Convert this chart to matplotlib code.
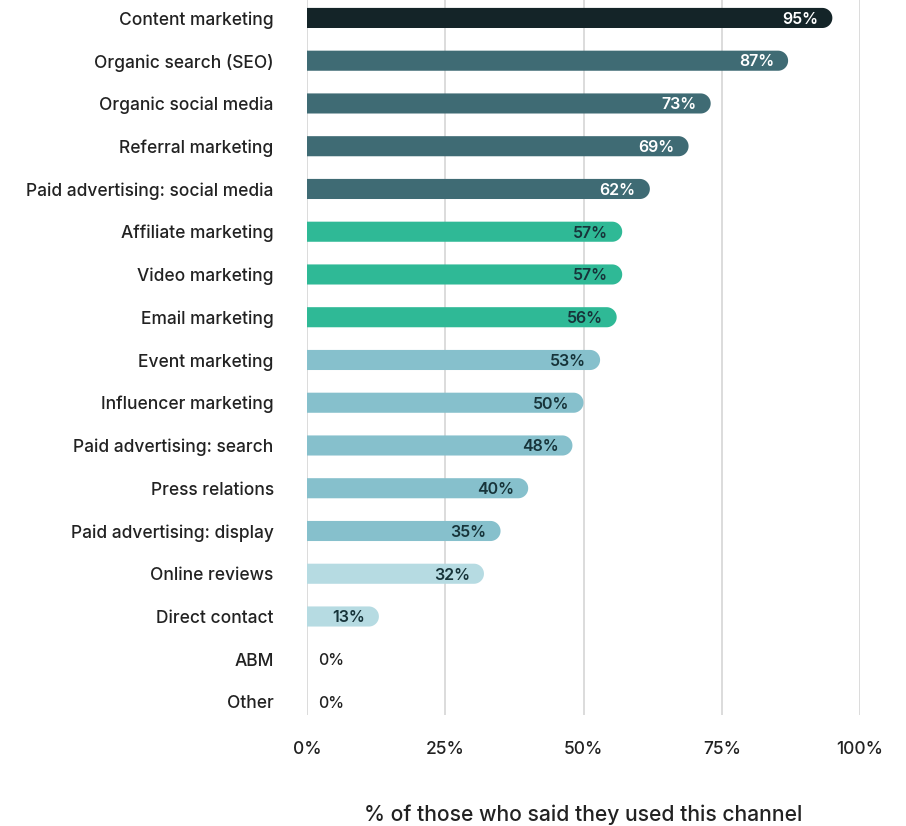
import matplotlib
matplotlib.use("Agg")
import numpy as np
import matplotlib.pyplot as plt
from matplotlib.patches import Polygon

plt.rcParams['font.family'] = ['Inter', 'DejaVu Sans']

channels = [
    "Content marketing", "Organic search (SEO)", "Organic social media",
    "Referral marketing", "Paid advertising: social media", "Affiliate marketing",
    "Video marketing", "Email marketing", "Event marketing", "Influencer marketing",
    "Paid advertising: search", "Press relations", "Paid advertising: display",
    "Online reviews", "Direct contact", "ABM", "Other",
]
shares = [95, 87, 73, 69, 62, 57, 57, 56, 53, 50, 48, 40, 35, 32, 13, 0, 0]
tiers = [0, 1, 1, 1, 1, 2, 2, 2, 3, 3, 3, 3, 3, 4, 4, 4, 4]
x_ticks = [0, 25, 50, 75, 100]
x_tick_labels = ["0%", "25%", "50%", "75%", "100%"]

tier_colors = ["#142428", "#3f6b74", "#2fb996", "#86c0cc", "#b6dbe2"]
tier_text = ["white", "white", "#17343a", "#17343a", "#17343a"]
text_color = "#222222"

W, H = 906, 826
fig = plt.figure(figsize=(W / 100, H / 100), dpi=100)
ax_left, ax_right = 307 / W, 860 / W
ax = fig.add_axes([ax_left, 0.1346, ax_right - ax_left, 0.8654])
ax.set_xlim(0, 100)
ax.set_ylim(16.3, -0.42)

for s in ax.spines.values():
    s.set_visible(False)

for t in x_ticks:
    ax.axvline(t, color="#dcdcdc", lw=1.4, zorder=0)

bar_h = 0.47
# radius of the rounded bar end, expressed in x and y data units
px_per_x = (860 - 307) / 100
px_per_y = 42.75
r_px = bar_h * px_per_y / 2
r_x = r_px / px_per_x
r_y = bar_h / 2
theta = np.linspace(np.pi / 2, -np.pi / 2, 40)


def pill(v, yc):
    """Bar with a square start and a rounded end."""
    cx = v - r_x
    arc = np.column_stack([cx + r_x * np.cos(theta), yc - r_y * np.sin(theta)])
    pts = np.vstack([[0, yc - r_y], arc, [0, yc + r_y]])
    return Polygon(pts, closed=True)


for i, (name, v, t) in enumerate(zip(channels, shares, tiers)):
    color = tier_colors[t]
    if v > 0:
        p = pill(v, i)
        p.set_facecolor(color)
        p.set_edgecolor("none")
        p.set_zorder(2)
        ax.add_patch(p)
        ax.text(v - 14 / px_per_x, i + 0.03, f"{v}%", ha="right", va="center",
                fontsize=11.5, fontweight="semibold", color=tier_text[t], zorder=3)
    else:
        ax.text(11 / px_per_x, i + 0.03, f"{v}%", ha="left", va="center",
                fontsize=11.5, fontweight="medium", color=text_color, zorder=3)

ax.set_yticks(range(len(channels)))
ax.set_yticklabels(channels, fontsize=12.5, color=text_color, fontweight="medium")
ax.tick_params(axis="y", length=0, pad=24)
ax.set_xticks(x_ticks)
ax.set_xticklabels(x_tick_labels, fontsize=12.5, color=text_color, fontweight="medium")
ax.tick_params(axis="x", length=0, pad=19)

fig.text((307 + 860) / 2 / W, (H - 815) / H,
         "% of those who said they used this channel",
         ha="center", va="center", fontsize=15.2, color=text_color, fontweight="medium")

fig.savefig("out.png", dpi=100)
